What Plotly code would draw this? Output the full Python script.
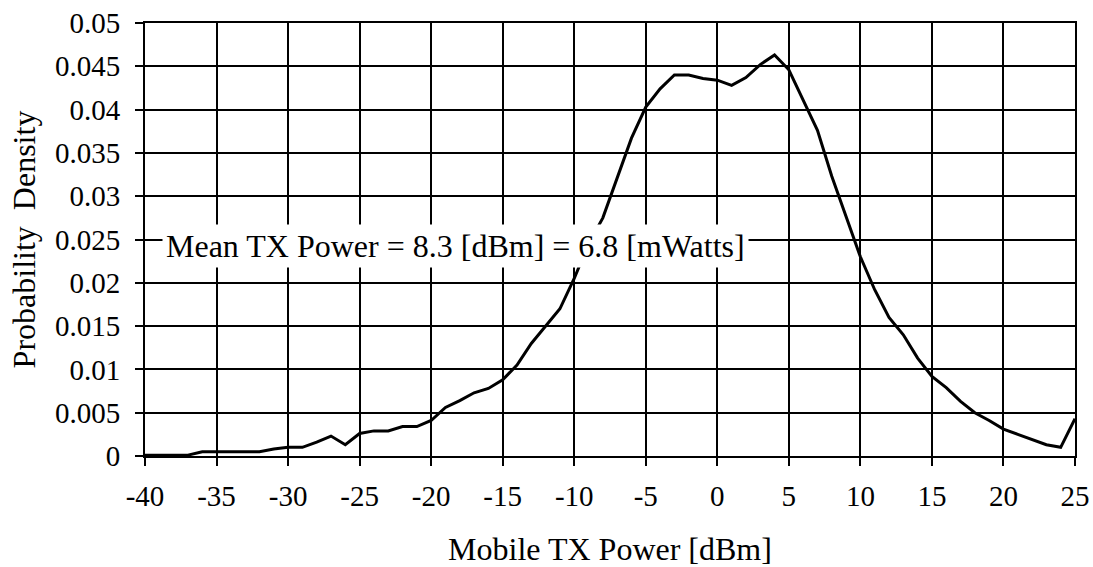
import plotly.graph_objects as go

tx_power_dbm = list(range(-40, 26))
density = [
    0.0001, 0.0001, 0.0001, 0.0001, 0.0005, 0.0005, 0.0005, 0.0005, 0.0005, 0.0008,
    0.0010, 0.0010, 0.0016, 0.0023, 0.0013, 0.0026, 0.0029, 0.0029, 0.0034, 0.0034,
    0.0041, 0.0056, 0.0064, 0.0073, 0.0078, 0.0088, 0.0105, 0.0130, 0.0150, 0.0170,
    0.0205, 0.0245, 0.0275, 0.0322, 0.0367, 0.0403, 0.0424, 0.0440, 0.0440, 0.0436,
    0.0434, 0.0428, 0.0437, 0.0452, 0.0463, 0.0446, 0.0412, 0.0376, 0.0323, 0.0277,
    0.0230, 0.0192, 0.0160, 0.0140, 0.0113, 0.0092, 0.0079, 0.0063, 0.0050, 0.0041,
    0.0031, 0.0025, 0.0019, 0.0013, 0.0010, 0.0043,
]
x_ticks = list(range(-40, 30, 5))
y_ticks = [0, 0.005, 0.01, 0.015, 0.02, 0.025, 0.03, 0.035, 0.04, 0.045, 0.05]
y_tick_labels = ["0", "0.005", "0.01", "0.015", "0.02", "0.025", "0.03", "0.035", "0.04", "0.045", "0.05"]
annotation_text = "Mean TX Power = 8.3 [dBm] = 6.8 [mWatts]"

FONT = "Liberation Serif"

fig = go.Figure()
fig.add_trace(go.Scatter(
    x=tx_power_dbm, y=density, mode="lines",
    line=dict(color="black", width=3), showlegend=False,
))

fig.add_annotation(
    x=-18.3, y=0.0242, xref="x", yref="y", text=annotation_text,
    showarrow=False, bgcolor="white", borderpad=3,
    font=dict(family=FONT, size=32, color="black"),
)

fig.update_layout(
    width=1093, height=567,
    margin=dict(l=145, r=18, t=23, b=111, autoexpand=False),
    plot_bgcolor="white", paper_bgcolor="white",
    font=dict(family=FONT, size=30, color="black"),
)
fig.update_xaxes(
    range=[-40, 25], tickvals=x_ticks, ticktext=[str(v) for v in x_ticks],
    showgrid=True, gridcolor="black", gridwidth=2,
    showline=True, linecolor="black", linewidth=2, mirror=True,
    ticks="outside", ticklen=8, tickwidth=2, tickcolor="black",
    zeroline=False, ticklabelstandoff=5, ticklabeloverflow="allow",
    title=dict(text="Mobile TX Power [dBm]", font=dict(family=FONT, size=32), standoff=31),
    tickfont=dict(family=FONT, size=29),
)
fig.update_yaxes(
    range=[0, 0.05], tickvals=y_ticks, ticktext=y_tick_labels,
    showgrid=True, gridcolor="black", gridwidth=2,
    showline=True, linecolor="black", linewidth=2, mirror=True,
    ticks="outside", ticklen=8, tickwidth=2, tickcolor="black",
    zeroline=False, ticklabelstandoff=9, ticklabeloverflow="allow",
    title=dict(text="Probability  Density", font=dict(family=FONT, size=32), standoff=10),
    tickfont=dict(family=FONT, size=29),
)

fig.write_html(
    "out.html",
    config={"displayModeBar": False},
    post_script="document.body.style.margin='0';document.body.style.overflow='hidden';",
)
